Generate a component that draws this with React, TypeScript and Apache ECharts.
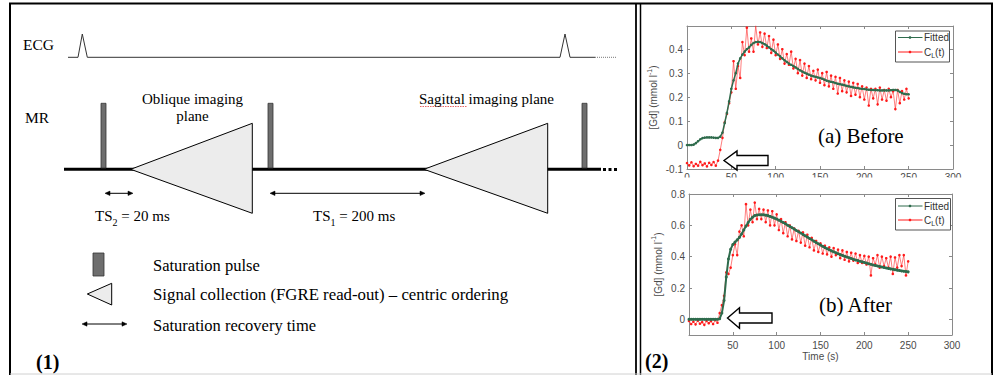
import React, { useEffect, useRef } from 'react';
import * as echarts from 'echarts';

// ---------- data ----------
const timeS = [0, 2.5, 5, 7.5, 10, 12.5, 15, 17.5, 20, 22.5, 25, 27.5, 30, 32.5, 35, 37.5, 40, 42.5, 45, 47.5,
  50, 52.5, 55, 57.5, 60, 62.5, 65, 67.5, 70, 72.5, 75, 77.5, 80, 82.5, 85, 87.5, 90, 92.5, 95, 97.5,
  100, 102.5, 105, 107.5, 110, 112.5, 115, 117.5, 120, 122.5, 125, 127.5, 130, 132.5, 135, 137.5, 140, 142.5, 145, 147.5,
  150, 152.5, 155, 157.5, 160, 162.5, 165, 167.5, 170, 172.5, 175, 177.5, 180, 182.5, 185, 187.5, 190, 192.5, 195, 197.5,
  200, 202.5, 205, 207.5, 210, 212.5, 215, 217.5, 220, 222.5, 225, 227.5, 230, 232.5, 235, 237.5, 240, 242.5, 245, 247.5, 250];

const fittedBefore = [0, 0, 0, 0.002, 0.008, 0.016, 0.024, 0.029, 0.031, 0.032,
  0.032, 0.032, 0.031, 0.03, 0.03, 0.035, 0.052, 0.092, 0.134, 0.182,
  0.235, 0.27, 0.3, 0.34, 0.362, 0.378, 0.39, 0.4, 0.408, 0.418,
  0.426, 0.43, 0.431, 0.43, 0.426, 0.421, 0.415, 0.408, 0.4, 0.394,
  0.386, 0.378, 0.37, 0.362, 0.354, 0.347, 0.34, 0.335, 0.33, 0.324,
  0.318, 0.312, 0.307, 0.302, 0.298, 0.294, 0.29, 0.287, 0.285, 0.282,
  0.28, 0.277, 0.273, 0.269, 0.266, 0.264, 0.262, 0.259, 0.256, 0.254,
  0.252, 0.25, 0.247, 0.245, 0.243, 0.241, 0.239, 0.238, 0.236, 0.235,
  0.234, 0.232, 0.231, 0.23, 0.23, 0.229, 0.229, 0.228, 0.228, 0.228,
  0.228, 0.228, 0.229, 0.23, 0.23, 0.228, 0.222, 0.217, 0.214, 0.212,
  0.212];

const measuredBefore = [-0.075, -0.085, -0.072, -0.088, -0.079, -0.086, -0.07, -0.084, -0.077, -0.089,
  -0.074, -0.083, -0.071, -0.086, -0.065, -0.02, 0.03, 0.095, 0.13, 0.175,
  0.22, 0.35, 0.235, 0.33, 0.28, 0.43, 0.375, 0.49, 0.39, 0.445,
  0.39, 0.498, 0.42, 0.47, 0.41, 0.465, 0.405, 0.455, 0.385, 0.44,
  0.375, 0.42, 0.36, 0.4, 0.34, 0.38, 0.335, 0.39, 0.32, 0.36,
  0.3, 0.355, 0.29, 0.34, 0.28, 0.33, 0.275, 0.31, 0.27, 0.315,
  0.26, 0.3, 0.25, 0.305, 0.245, 0.29, 0.235, 0.285, 0.215, 0.28,
  0.225, 0.27, 0.22, 0.265, 0.205, 0.26, 0.21, 0.255, 0.2, 0.245,
  0.19, 0.24, 0.165, 0.235, 0.195, 0.235, 0.17, 0.24, 0.19, 0.23,
  0.185, 0.235, 0.2, 0.225, 0.15, 0.23, 0.175, 0.225, 0.19, 0.235,
  0.195];

const fittedAfter = [0, 0, 0, 0, 0, 0, 0, 0, 0, 0, 0, 0, 0, 0,
  0.004, 0.04, 0.12, 0.27, 0.385, 0.447, 0.478, 0.493, 0.507, 0.523,
  0.545, 0.57, 0.595, 0.618, 0.638, 0.652, 0.662, 0.666, 0.668, 0.668,
  0.667, 0.665, 0.662, 0.657, 0.652, 0.646, 0.64, 0.633, 0.626, 0.618,
  0.61, 0.601, 0.593, 0.585, 0.576, 0.567, 0.559, 0.551, 0.542, 0.533,
  0.525, 0.516, 0.508, 0.499, 0.49, 0.482, 0.474, 0.466, 0.458, 0.451,
  0.444, 0.437, 0.431, 0.425, 0.419, 0.413, 0.408, 0.403, 0.398, 0.393,
  0.388, 0.383, 0.379, 0.375, 0.371, 0.367, 0.363, 0.359, 0.355, 0.351,
  0.347, 0.344, 0.34, 0.337, 0.334, 0.331, 0.328, 0.325, 0.322, 0.319,
  0.317, 0.314, 0.312, 0.309, 0.307, 0.305, 0.303];

const measuredAfter = [-0.01, -0.03, -0.015, -0.032, -0.008, -0.028, -0.018, -0.035, -0.01, -0.025,
  -0.012, -0.03, -0.005, -0.022, 0.04, 0.09, 0.15, 0.3, 0.29, 0.33,
  0.41, 0.48, 0.41, 0.56, 0.6, 0.53, 0.735, 0.6, 0.7, 0.62,
  0.745, 0.64, 0.705, 0.64, 0.7, 0.62, 0.695, 0.6, 0.69, 0.6,
  0.67, 0.57, 0.64, 0.55, 0.62, 0.53, 0.6, 0.51, 0.58, 0.5,
  0.565, 0.49, 0.555, 0.47, 0.54, 0.46, 0.52, 0.44, 0.5, 0.43,
  0.485, 0.42, 0.47, 0.415, 0.46, 0.4, 0.455, 0.41, 0.445, 0.39,
  0.44, 0.38, 0.43, 0.37, 0.425, 0.375, 0.42, 0.36, 0.41, 0.36,
  0.405, 0.35, 0.4, 0.28, 0.39, 0.35, 0.41, 0.33, 0.4, 0.34,
  0.39, 0.33, 0.4, 0.29, 0.395, 0.33, 0.41, 0.34, 0.41, 0.28,
  0.37];

const yTicksAfter = [0, 0.2, 0.4, 0.6, 0.8];
const legendLabels = ['Fitted', 'C{sub|L}(t)'];
const panelLabels = ['(a) Before', '(b) After'];
const diagramLegend = ['Saturation pulse', 'Signal collection (FGRE read-out) \u2013 centric ordering', 'Saturation recovery time'];

// ---------- styles ----------
const SERIF = '"Liberation Serif", "Times New Roman", serif';
const SANS = '"Liberation Sans", Arial, sans-serif';
const AX = '#8a8a8a';
const LAB = '#4a4a4a';
const GREEN = '#2e6b4c';
const RED = '#ff1a1a';
const PULSE = '#6e6e6e';
const TRI = '#ececec';

function text(x: number, y: number, t: string, size: number, extra: any = {}) {
  return {
    type: 'text', x, y, z: 40,
    style: {
      text: t, fontSize: size, fontFamily: SERIF, fill: '#000',
      textAlign: 'left', textVerticalAlign: 'middle', align: 'left', verticalAlign: 'middle',
      ...extra,
    },
  };
}
function ctext(x: number, y: number, t: string, size: number) {
  return text(x, y, t, size, { textAlign: 'center', align: 'center' });
}
function line(x1: number, y1: number, x2: number, y2: number, stroke = '#000', w = 1, extra: any = {}) {
  return { type: 'line', z: 30, shape: { x1, y1, x2, y2 }, style: { stroke, lineWidth: w, ...extra } };
}
function poly(points: number[][], fill: string, stroke = '#000', w = 1, z = 30) {
  return { type: 'polygon', z, shape: { points }, style: { fill, stroke, lineWidth: w } };
}
function dblArrow(x1: number, x2: number, y: number) {
  return [
    line(x1 + 3, y, x2 - 3, y, '#000', 1),
    poly([[x1, y], [x1 + 5, y - 2.2], [x1 + 5, y + 2.2]], '#000', '#000', 0.5),
    poly([[x2, y], [x2 - 5, y - 2.2], [x2 - 5, y + 2.2]], '#000', '#000', 0.5),
  ];
}
function pulse(x: number, top: number, bottom: number) {
  return { type: 'rect', z: 32, shape: { x, y: top, width: 5, height: bottom - top }, style: { fill: PULSE, stroke: '#333', lineWidth: 0.8 } };
}
function hollowArrow(tipX: number, tipY: number, headX: number, endX: number, halfHead: number, halfShaft: number) {
  return poly([
    [tipX, tipY], [headX, tipY - halfHead], [headX, tipY - halfShaft], [endX, tipY - halfShaft],
    [endX, tipY + halfShaft], [headX, tipY + halfShaft], [headX, tipY + halfHead],
  ], '#fff', '#000', 1.4, 60);
}
function legendBox(x: number, y: number, w: number, h: number, y1: number, y2: number) {
  const subRich = { sub: { fontSize: 7, fontFamily: SANS, fill: '#333', verticalAlign: 'bottom', lineHeight: 8 } };
  return [
    { type: 'rect', shape: { x, y, width: w, height: h }, style: { fill: '#fff', stroke: '#555', lineWidth: 1 } },
    line(x + 2.5, y1, x + 27, y1, GREEN, 1),
    { type: 'circle', shape: { cx: x + 14.5, cy: y1, r: 1.3 }, style: { fill: GREEN } },
    line(x + 2.5, y2, x + 27, y2, RED, 1),
    { type: 'circle', shape: { cx: x + 14.5, cy: y2, r: 1.3 }, style: { fill: RED } },
    { type: 'text', x: x + 28.5, y: y1, style: { text: legendLabels[0], fontSize: 10, fontFamily: SANS, fill: '#333', textVerticalAlign: 'middle', verticalAlign: 'middle' } },
    { type: 'text', x: x + 28.5, y: y2, style: { text: legendLabels[1], fontSize: 10, fontFamily: SANS, fill: '#333', textVerticalAlign: 'middle', verticalAlign: 'middle', lineHeight: 14, rich: subRich } },
  ].map((e: any) => ({ ...e, z: 62 }));
}

export default function App() {
  const ref = useRef<HTMLDivElement>(null);
  useEffect(() => {
    if (!ref.current) return;
    const chart = echarts.init(ref.current, undefined, { renderer: 'svg' });

    const axisBase = {
      type: 'value',
      axisLine: { show: true, onZero: false, lineStyle: { color: AX, width: 1 } },
      axisTick: { show: true, inside: true, length: 3, lineStyle: { color: AX } },
      splitLine: { show: false },
    };
    const tickLabel = { fontSize: 10, color: LAB, fontFamily: SANS };
    const fmt1 = (v: number) => String(Number(v.toFixed(1)));
    const yName = '[Gd] (mmol l{sup|-1})';
    const yNameStyle = {
      fontSize: 10, color: LAB, fontFamily: SANS, lineHeight: 16,
      rich: { sup: { fontSize: 7, color: LAB, fontFamily: SANS, verticalAlign: 'top', lineHeight: 8 } },
    };

    const subRich = { sub: { fontSize: 10, fontFamily: SERIF, fill: '#000', verticalAlign: 'bottom', lineHeight: 10 } };

    const graphic: any[] = [
      // frames
      line(10, 3.5, 10, 375, '#000', 2),
      line(9, 3.5, 993, 3.5, '#000', 1.8),
      line(636, 3.5, 636, 375, '#000', 1.8),
      line(640.5, 3.5, 640.5, 375, '#000', 1.5),
      line(992, 3.5, 992, 375, '#000', 2),
      line(10, 374, 992, 374, '#d0d0d0', 1),
      // ECG trace
      text(23, 44.7, 'ECG', 15.5),
      { type: 'polyline', z: 30, shape: { points: [[68, 57.3], [78, 57.3], [82.3, 34], [87.3, 57.3], [560, 57.3], [565, 34], [570, 57.3], [595, 57.3]] }, style: { stroke: '#333', lineWidth: 1, fill: null } },
      line(595, 57.3, 617, 57.3, '#777', 1, { lineDash: [1, 1] }),
      // MR sequence
      text(25, 117.5, 'MR', 15.5),
      line(64, 169.3, 601, 169.3, '#000', 3),
      { type: 'rect', z: 31, shape: { x: 603, y: 168, width: 3, height: 3 }, style: { fill: '#000' } },
      { type: 'rect', z: 31, shape: { x: 608.5, y: 168, width: 3, height: 3 }, style: { fill: '#000' } },
      { type: 'rect', z: 31, shape: { x: 614, y: 168, width: 3, height: 3 }, style: { fill: '#000' } },
      pulse(101, 103.3, 168), pulse(268, 103.3, 168), pulse(582, 103.3, 168),
      poly([[130.7, 169.3], [252.3, 123.3], [252.3, 213.3]], TRI, '#000', 1, 33),
      poly([[424, 169.3], [547.7, 123.3], [547.7, 213.3]], TRI, '#000', 1, 33),
      ctext(192.5, 99, 'Oblique imaging', 15),
      ctext(192.5, 116, 'plane', 15),
      ctext(486.5, 99, 'Sagittal imaging plane', 15),
      line(420, 106.5, 467, 106.5, '#e04040', 0.8, { lineDash: [1.5, 1] }),
      ...dblArrow(105, 133, 193.3),
      ...dblArrow(270, 425, 193.3),
      text(95, 216, 'TS{sub|2} = 20 ms', 15, { lineHeight: 22, rich: subRich }),
      text(313, 216, 'TS{sub|1} = 200 ms', 15, { lineHeight: 22, rich: subRich }),
      // diagram legend
      { type: 'rect', z: 32, shape: { x: 93, y: 253, width: 11, height: 23 }, style: { fill: PULSE, stroke: '#333', lineWidth: 0.8 } },
      text(153, 265.5, diagramLegend[0], 16.5),
      poly([[87.3, 294], [111.7, 283.3], [111.7, 305]], TRI, '#000', 1, 33),
      text(153, 294.5, diagramLegend[1], 16.8),
      ...dblArrow(82, 127, 324),
      text(153, 325, diagramLegend[2], 16.5),
      text(36, 362, '(1)', 20, { fontWeight: 'bold' }),
      text(645, 361, '(2)', 20, { fontWeight: 'bold' }),
      // plot annotations
      hollowArrow(724, 160.5, 737, 768, 9.5, 5),
      hollowArrow(727.5, 318, 739.5, 772, 10.3, 5),
      text(818, 135.7, panelLabels[0], 21),
      text(819, 304.7, panelLabels[1], 21),
      ...legendBox(895.5, 31, 54, 31, 37.5, 52),
      ...legendBox(895.5, 198.5, 55, 31.5, 206, 220),
      // clip the lower half of plot (a) tick labels
      { type: 'rect', z: 55, shape: { x: 665, y: 177.5, width: 310, height: 10 }, style: { fill: '#fff' } },
    ];

    const option: any = {
      animation: false,
      backgroundColor: '#fff',
      textStyle: { fontFamily: SANS },
      grid: [
        { left: 687, top: 26, width: 266, height: 143, show: false },
        { left: 689, top: 194, width: 263, height: 141, show: false },
      ],
      xAxis: [
        { ...axisBase, gridIndex: 0, position: 'bottom', min: 0, max: 300, interval: 50, axisLabel: { ...tickLabel, margin: 3 } },
        { ...axisBase, gridIndex: 0, position: 'top', min: 0, max: 300, interval: 50, axisLabel: { show: false } },
        {
          ...axisBase, gridIndex: 1, position: 'bottom', min: 0, max: 300, interval: 50,
          axisLabel: { ...tickLabel, margin: 5, showMinLabel: false },
          name: 'Time (s)', nameLocation: 'middle', nameGap: 16, nameTextStyle: { fontSize: 10, color: LAB, fontFamily: SANS },
        },
        { ...axisBase, gridIndex: 1, position: 'top', min: 0, max: 300, interval: 50, axisLabel: { show: false } },
      ],
      yAxis: [
        {
          ...axisBase, gridIndex: 0, position: 'left', min: -0.1, max: 0.497, interval: 0.1,
          axisLabel: { ...tickLabel, margin: 4, showMaxLabel: false, formatter: fmt1 },
          name: yName, nameLocation: 'middle', nameGap: 23, nameRotate: 90, nameTextStyle: yNameStyle,
        },
        { ...axisBase, gridIndex: 0, position: 'right', min: -0.1, max: 0.497, interval: 0.1, axisLabel: { show: false } },
        {
          ...axisBase, gridIndex: 1, position: 'left', min: -0.1, max: 0.8,
          axisTick: { ...axisBase.axisTick, customValues: yTicksAfter },
          axisLabel: { ...tickLabel, margin: 4, customValues: yTicksAfter, formatter: fmt1 },
          name: yName, nameLocation: 'middle', nameGap: 23, nameRotate: 90, nameTextStyle: yNameStyle,
        },
        {
          ...axisBase, gridIndex: 1, position: 'right', min: -0.1, max: 0.8,
          axisTick: { ...axisBase.axisTick, customValues: yTicksAfter }, axisLabel: { show: false },
        },
      ],
      series: [
        {
          type: 'line', name: 'C_L(t) before', xAxisIndex: 0, yAxisIndex: 0, silent: true, z: 2,
          data: timeS.map((t, i) => [t, measuredBefore[i]]),
          symbol: 'circle', symbolSize: 2.6, lineStyle: { color: 'rgba(255,40,40,0.6)', width: 1 }, itemStyle: { color: RED },
        },
        {
          type: 'line', name: 'Fitted before', xAxisIndex: 0, yAxisIndex: 0, silent: true, z: 3,
          data: timeS.map((t, i) => [t, fittedBefore[i]]),
          symbol: 'circle', symbolSize: 2.6, lineStyle: { color: GREEN, width: 1.5 }, itemStyle: { color: GREEN },
        },
        {
          type: 'line', name: 'C_L(t) after', xAxisIndex: 2, yAxisIndex: 2, silent: true, z: 2,
          data: timeS.map((t, i) => [t, measuredAfter[i]]),
          symbol: 'circle', symbolSize: 2.6, lineStyle: { color: 'rgba(255,40,40,0.6)', width: 1 }, itemStyle: { color: RED },
        },
        {
          type: 'line', name: 'Fitted after', xAxisIndex: 2, yAxisIndex: 2, silent: true, z: 3,
          data: timeS.map((t, i) => [t, fittedAfter[i]]),
          symbol: 'circle', symbolSize: 3, lineStyle: { color: GREEN, width: 2 }, itemStyle: { color: GREEN },
        },
      ],
      graphic,
    };
    chart.setOption(option);
    return () => chart.dispose();
  }, []);

  return <div ref={ref} style={{ position: 'absolute', left: 0, top: 0, width: 995, height: 375, background: '#fff' }} />;
}
